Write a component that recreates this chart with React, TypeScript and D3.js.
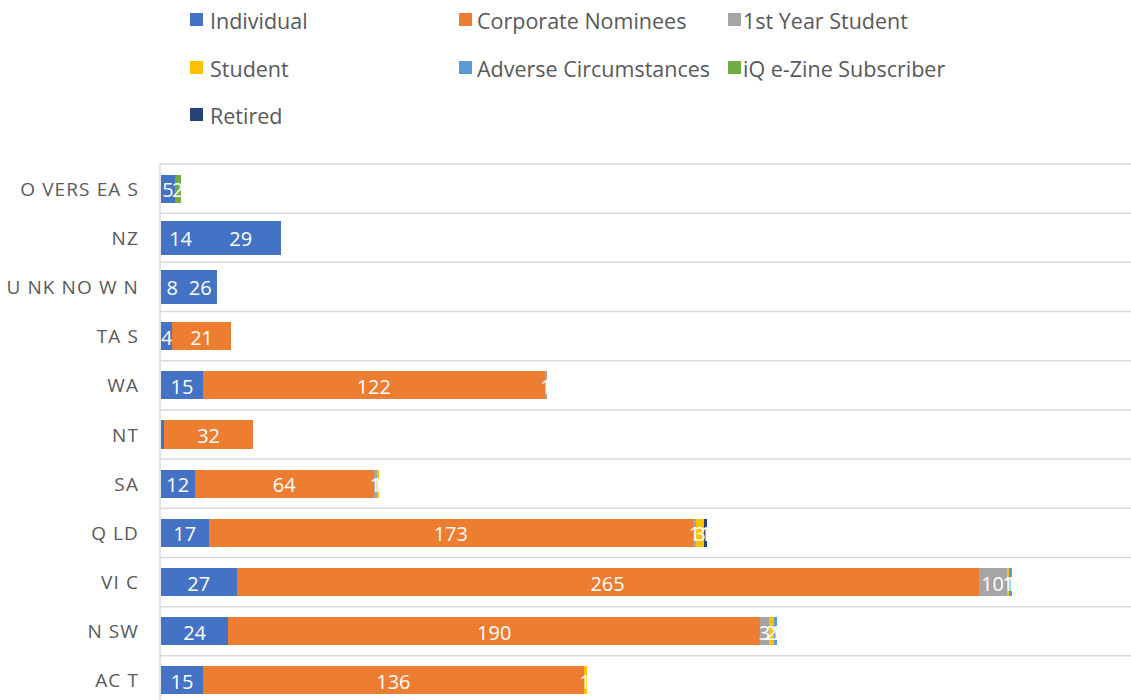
import React from "react";
import * as d3 from "d3";

const categories = ["O VERS EA S", "NZ", "U NK NO W N", "TA S", "WA", "NT", "SA", "Q LD", "VI C", "N SW", "AC T"];
const seriesNames = ["Individual", "Corporate Nominees", "1st Year Student", "Student", "Adverse Circumstances", "iQ e-Zine Subscriber", "Retired"];
const seriesColors = ["#4472C4", "#ED7D31", "#A5A5A5", "#FFC000", "#5B9BD5", "#70AD47", "#264478"];

const individual = [5, 14, 8, 4, 15, 1, 12, 17, 27, 24, 15];
const corporateNominees = [0, 0, 0, 21, 122, 32, 64, 173, 265, 190, 136];
const firstYearStudent = [0, 0, 0, 0, 1, 0, 1, 1, 10, 3, 0];
const student = [0, 0, 0, 0, 0, 0, 1, 3, 1, 2, 1];
const adverseCircumstances = [0, 0, 0, 0, 0, 0, 0, 0, 1, 1, 0];
const iqEzine = [2, 0, 0, 0, 0, 0, 0, 0, 0, 0, 0];
const retired = [0, 0, 0, 0, 0, 0, 0, 1, 0, 0, 0];
// secondary individual bars (same colour, not in legend)
const individualSecondary = [0, 29, 12, 0, 0, 0, 0, 0, 0, 0, 0];
const individualSecondaryLabels = ["", "29", "26", "", "", "", "", "", "", "", ""];
// labels not shown in the original
const hiddenLabels = [["NT", "Individual"]];

const legendRows = [
  ["Individual", "Corporate Nominees", "1st Year Student"],
  ["Student", "Adverse Circumstances", "iQ e-Zine Subscriber"],
  ["Retired"],
];

const FONT = "'Open Sans', 'Noto Sans', sans-serif";

export default function App() {
  const W = 1131, H = 700;
  const left = 161;
  const top = 164, bottom = 705;
  const x = d3.scaleLinear().domain([0, 350]).range([left, left + 350 * 2.8]);
  const y = d3.scaleBand<string>().domain(categories).range([top, bottom]).paddingInner(0.43).paddingOuter(0.215);
  const step = y.step();
  const series = [individual, corporateNominees, firstYearStudent, student, adverseCircumstances, iqEzine, retired];

  const rows = categories.map((cat, i) => {
    const segs: { x0: number; x1: number; color: string; label: string; thick: boolean }[] = [];
    let acc = 0;
    const thick = individualSecondary[i] > 0;
    series.forEach((s, k) => {
      const v = s[i];
      if (v > 0) {
        const hidden = hiddenLabels.some(([c, n]) => c === cat && n === seriesNames[k]);
        segs.push({ x0: acc, x1: acc + v, color: seriesColors[k], label: hidden ? "" : String(v), thick });
        acc += v;
      }
      if (k === 0 && individualSecondary[i] > 0) {
        segs.push({ x0: acc, x1: acc + individualSecondary[i], color: seriesColors[0], label: individualSecondaryLabels[i], thick });
        acc += individualSecondary[i];
      }
    });
    return { cat, segs };
  });

  const gridYs = d3.range(categories.length + 1).map((i) => top + i * step);
  const legendSq = [190, 459, 728];
  const legendTx = [210, 477, 743];
  const legendY = [19, 67, 114];

  return (
    <svg width={W} height={H} style={{ position: "absolute", left: 0, top: 0, background: "#fff" }}>
      {gridYs.map((gy, i) => (
        <line key={i} x1={160} x2={W} y1={gy} y2={gy} stroke="#d9d9d9" strokeWidth={1.5} />
      ))}
      <line x1={160} x2={160} y1={top} y2={bottom} stroke="#d9d9d9" strokeWidth={1.5} />
      {rows.map((r) => {
        const bw = y.bandwidth();
        const cy = (y(r.cat) as number) + bw / 2;
        return (
          <g key={r.cat}>
            <text x={139} y={cy} textAnchor="end" dominantBaseline="central" fontFamily={FONT} fontSize={19} fill="#595959" letterSpacing={1.1}>
              {r.cat}
            </text>
            {r.segs.map((s, j) => {
              const h = s.thick ? 34 : bw;
              return (
                <rect key={j} x={x(s.x0)} y={cy - h / 2} width={x(s.x1) - x(s.x0)} height={h} fill={s.color} shapeRendering="crispEdges" />
              );
            })}
            {r.segs.map((s, j) =>
              s.label ? (
                <text key={"t" + j} x={(x(s.x0) + x(s.x1)) / 2} y={cy + 1} textAnchor="middle" dominantBaseline="central" fontFamily={FONT} fontSize={20} fill="#ffffff">
                  {s.label}
                </text>
              ) : null
            )}
          </g>
        );
      })}
      {legendRows.map((row, ri) =>
        row.map((name, ci) => {
          const k = seriesNames.indexOf(name);
          return (
            <g key={name}>
              <rect x={legendSq[ci]} y={legendY[ri] - 6} width={13} height={13} fill={seriesColors[k]} />
              <text x={legendTx[ci]} y={legendY[ri] + 1} dominantBaseline="central" fontFamily={FONT} fontSize={21.5} fill="#595959">
                {name}
              </text>
            </g>
          );
        })
      )}
    </svg>
  );
}
